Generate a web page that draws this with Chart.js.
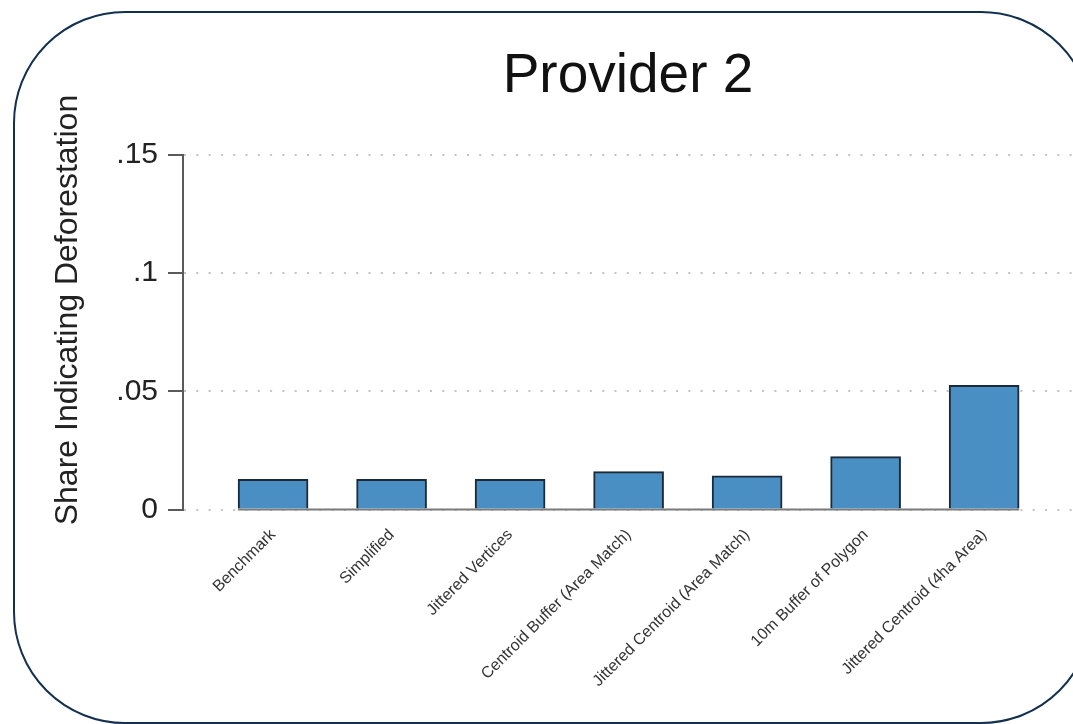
<!DOCTYPE html>
<html>
<head>
<meta charset="utf-8">
<script src="https://cdn.jsdelivr.net/npm/chart.js@4.4.1/dist/chart.umd.min.js"></script>
<style>
  html, body { margin: 0; padding: 0; background: #fff; overflow: hidden; width: 1073px; height: 724px; }
  #frame {
    position: absolute; left: 13px; top: 11px; width: 1080px; height: 713px;
    border: 2.5px solid #13304f; border-radius: 112px; box-sizing: border-box;
  }
  #chart { position: absolute; left: 0; top: 0; }
</style>
</head>
<body>
<div id="frame"></div>
<canvas id="chart" width="1073" height="724"></canvas>
<script>
const categories = [
  'Benchmark',
  'Simplified',
  'Jittered Vertices',
  'Centroid Buffer (Area Match)',
  'Jittered Centroid (Area Match)',
  '10m Buffer of Polygon',
  'Jittered Centroid (4ha Area)'
];
const shareValues = [0.0128, 0.0128, 0.0128, 0.0160, 0.0142, 0.0224, 0.0525];
const yTickValues = [0, 0.05, 0.1, 0.15];
const yTickLabels = ['0', '.05', '.1', '.15'];

const FONT = 'Liberation Sans, Arial, sans-serif';

// solid baseline under the bars (first bar left edge to last bar right edge)
const baseline = {
  id: 'baseline',
  beforeDatasetsDraw(chart) {
    const bars = chart.getDatasetMeta(0).data;
    if (!bars.length) return;
    const first = bars[0], last = bars[bars.length - 1];
    const y = chart.scales.y.getPixelForValue(0);
    const c = chart.ctx;
    c.save();
    c.strokeStyle = '#7a7a7a';
    c.lineWidth = 2;
    c.beginPath();
    c.moveTo(first.x - first.width / 2, y);
    c.lineTo(last.x + last.width / 2, y);
    c.stroke();
    c.restore();
  }
};

const ctx = document.getElementById('chart').getContext('2d');
const chart = new Chart(ctx, {
  type: 'bar',
  data: {
    datasets: [{
      label: 'Share',
      data: shareValues.map((v, i) => ({ x: i + 1, y: v })),
      backgroundColor: '#4a8fc3',
      borderColor: '#1c2a38',
      borderWidth: 2,
      barThickness: 70
    }]
  },
  options: {
    responsive: false,
    animation: false,
    layout: { padding: 0 },
    plugins: {
      legend: { display: false },
      tooltip: { enabled: false },
      title: {
        display: true,
        text: 'Provider 2',
        fullSize: false,
        color: '#111',
        font: { family: FONT, size: 55, weight: 'normal' },
        padding: { top: 44, bottom: 45 }
      }
    },
    scales: {
      x: {
        type: 'linear',
        offset: false,
        min: 0.24,
        max: 7.75,
        afterBuildTicks: (scale) => { scale.ticks = categories.map((c, i) => ({ value: i + 1 })); },
        afterFit: (scale) => { scale.height = 214.5; },
        grid: { display: false, offset: false },
        border: { display: false },
        ticks: {
          autoSkip: false,
          minRotation: 45,
          maxRotation: 45,
          padding: 8,
          color: '#333',
          font: { family: FONT, size: 16 },
          callback: (v) => categories[v - 1]
        }
      },
      y: {
        min: 0,
        max: 0.15,
        afterBuildTicks: (scale) => { scale.ticks = yTickValues.map(v => ({ value: v })); },
        afterFit: (scale) => { scale.width = 183; },
        grid: {
          color: '#c4c4c4',
          lineWidth: 2,
          drawTicks: true,
          tickLength: 15,
          tickColor: '#5a5a5a',
          tickWidth: 2,
          tickBorderDash: []
        },
        border: { display: true, color: '#5a5a5a', width: 2, dash: [2, 10.3] },
        ticks: {
          padding: 10,
          color: '#222',
          font: { family: FONT, size: 30 },
          callback: (v) => yTickLabels[yTickValues.indexOf(v)]
        },
        title: {
          display: true,
          text: '     Share Indicating Deforestation',
          color: '#222',
          font: { family: FONT, size: 32 },
          padding: { top: 49, bottom: 0 }
        }
      }
    }
  },
  plugins: [baseline]
});
</script>
</body>
</html>
